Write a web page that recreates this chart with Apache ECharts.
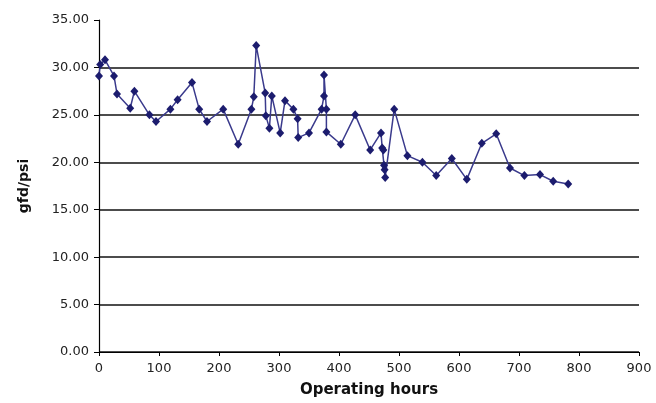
<!DOCTYPE html>
<html>
<head>
<meta charset="utf-8">
<script src="https://cdn.jsdelivr.net/npm/echarts@6/dist/echarts.min.js"></script>
<style>html,body{margin:0;padding:0;background:#fff;}#c{width:656px;height:403px;}</style>
</head>
<body>
<div id="c"></div>
<script>
var hours = [0, 2, 10, 25, 30, 52, 59, 84, 95, 119, 131, 155, 167, 180, 207, 232, 254, 258, 262, 277, 278, 284, 288, 302, 310, 324, 331, 332, 350, 371, 375, 375, 379, 379, 403, 427, 452, 470, 472, 474, 475, 476, 477, 492, 514, 539, 562, 588, 613, 638, 662, 685, 709, 735, 757, 782];
var flux = [29.1, 30.3, 30.8, 29.1, 27.2, 25.7, 27.5, 25.0, 24.3, 25.6, 26.6, 28.4, 25.6, 24.3, 25.6, 21.9, 25.6, 26.9, 32.3, 27.3, 24.9, 23.6, 27.0, 23.1, 26.5, 25.6, 24.6, 22.6, 23.1, 25.6, 27.0, 29.2, 25.6, 23.2, 21.9, 25.0, 21.3, 23.1, 21.5, 21.3, 19.7, 19.2, 18.4, 25.6, 20.7, 20.0, 18.6, 20.4, 18.2, 22.0, 23.0, 19.4, 18.6, 18.7, 18.0, 17.7];
var xTicks = [0, 100, 200, 300, 400, 500, 600, 700, 800, 900];
var yTicks = [0, 5, 10, 15, 20, 25, 30, 35];

var data = hours.map(function (h, i) { return [h, flux[i]]; });
var chart = echarts.init(document.getElementById('c'), null, { renderer: 'canvas' });
chart.setOption({
  backgroundColor: '#fff',
  animation: false,
  grid: { left: 99, right: 17, top: 20, bottom: 48 },
  xAxis: {
    type: 'value', min: xTicks[0], max: xTicks[xTicks.length - 1], interval: 100,
    name: 'Operating hours', nameLocation: 'middle', nameGap: 31,
    nameTextStyle: { fontFamily: 'DejaVu Sans', fontWeight: 'bold', fontSize: 15, color: '#111' },
    axisLine: { show: true, lineStyle: { color: '#000', width: 1.2 } },
    axisTick: { show: true, inside: false, length: 4, lineStyle: { color: '#000' } },
    axisLabel: { fontFamily: 'DejaVu Sans', fontSize: 13, color: '#222', margin: 10 },
    splitLine: { show: false }
  },
  yAxis: {
    type: 'value', min: yTicks[0], max: yTicks[yTicks.length - 1], interval: 5,
    name: 'gfd/psi', nameLocation: 'middle', nameGap: 68, nameRotate: 90,
    nameTextStyle: { fontFamily: 'DejaVu Sans', fontWeight: 'bold', fontSize: 14, color: '#111' },
    axisLine: { show: true, lineStyle: { color: '#000', width: 1.2 } },
    axisTick: { show: true, inside: false, length: 5, lineStyle: { color: '#000' } },
    axisLabel: { fontFamily: 'DejaVu Sans', fontSize: 13, color: '#222', margin: 10,
      formatter: function (v) { return v.toFixed(2); } },
    splitLine: { show: true, showMaxLine: false, lineStyle: { color: '#111', width: 1.5 } }
  },
  series: [{
    type: 'line', data: data,
    symbol: 'diamond', symbolSize: [8, 9],
    itemStyle: { color: '#1c1c6e' },
    lineStyle: { color: '#3a3a8c', width: 1.5 }
  }]
});
</script>
</body>
</html>
